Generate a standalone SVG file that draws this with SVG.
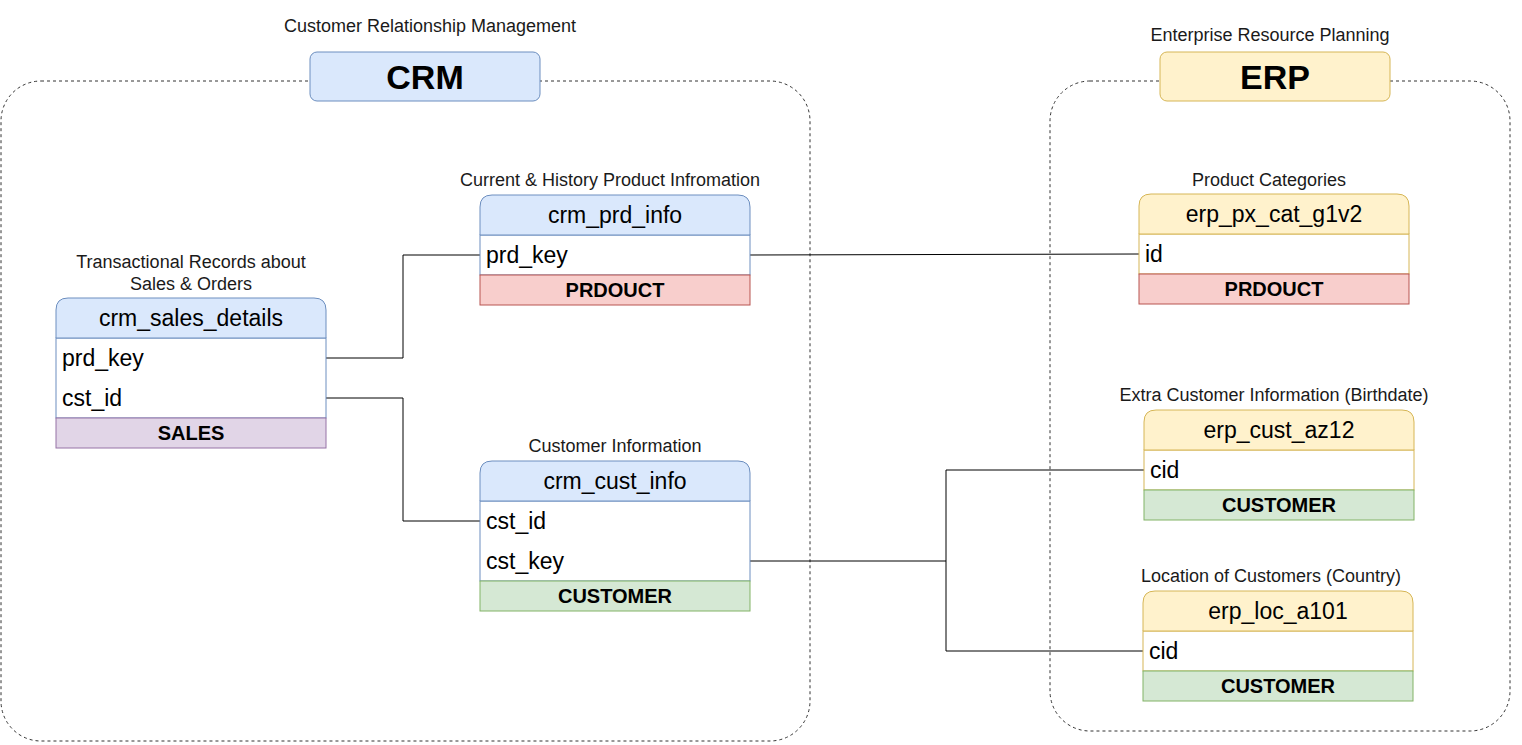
<svg xmlns="http://www.w3.org/2000/svg" width="1522" height="745" viewBox="0 0 1522 745">
<style>
.lbl{font-family:"Liberation Sans",Arial,sans-serif;font-size:18px;fill:#1a1a1a;text-anchor:middle}
.hd{font-family:"Liberation Sans",Arial,sans-serif;font-size:23px;fill:#000;text-anchor:middle}
.row{font-family:"Liberation Sans",Arial,sans-serif;font-size:23px;fill:#000}
.ft{font-family:"Liberation Sans",Arial,sans-serif;font-size:20px;font-weight:bold;fill:#000;text-anchor:middle}
.big{font-family:"Liberation Sans",Arial,sans-serif;font-size:34px;font-weight:bold;fill:#000;text-anchor:middle}
.cont{fill:none;stroke:#333;stroke-width:1;stroke-dasharray:3 3}
.blue{fill:#dae8fc;stroke:#6c8ebf}
.yel{fill:#fff2cc;stroke:#d6b656}
.bodyb{fill:#fff;stroke:#6c8ebf}
.bodyy{fill:#fff;stroke:#d6b656}
.red{fill:#f8cecc;stroke:#b85450}
.grn{fill:#d5e8d4;stroke:#82b366}
.pur{fill:#e1d5e7;stroke:#9673a6}
.conn{fill:none;stroke:#000;stroke-width:1}
</style>

<g id="crm-group">
<rect class="cont" x="1" y="81" width="809" height="660" rx="40"/>
<text class="lbl" x="430" y="32">Customer Relationship Management</text>
<rect class="blue" x="310" y="52" width="230" height="49" rx="7"/>
<text class="big" x="425" y="89">CRM</text>
</g>

<g id="erp-group">
<rect class="cont" x="1050" y="81" width="460" height="650" rx="40"/>
<text class="lbl" x="1270" y="41">Enterprise Resource Planning</text>
<rect class="yel" x="1160" y="52" width="230" height="49" rx="7"/>
<text class="big" x="1275" y="89">ERP</text>
</g>

<g id="connectors">
<polyline class="conn" points="326,358 403,358 403,255 480,255"/>
<polyline class="conn" points="326,398 403,398 403,521 480,521"/>
<line class="conn" x1="750" y1="255" x2="1139" y2="254"/>
<polyline class="conn" points="750,561 946,561 946,470 1144,470"/>
<polyline class="conn" points="946,561 946,651 1143,651"/>
</g>

<g id="crm_sales_details">
<text class="lbl" x="191" y="268">Transactional Records about</text>
<text class="lbl" x="191" y="290">Sales &amp; Orders</text>
<rect class="bodyb" x="56" y="338" width="270" height="80"/>
<path class="blue" d="M56,338 V310 Q56,298 68,298 H314 Q326,298 326,310 V338 Z"/>
<rect class="pur" x="56" y="418" width="270" height="30"/>
<text class="hd" x="191" y="326">crm_sales_details</text>
<text class="row" x="62" y="366">prd_key</text>
<text class="row" x="62" y="406">cst_id</text>
<text class="ft" x="191" y="440">SALES</text>
</g>

<g id="crm_prd_info">
<text class="lbl" x="610" y="186">Current &amp; History Product Infromation</text>
<rect class="bodyb" x="480" y="235" width="270" height="40"/>
<path class="blue" d="M480,235 V207 Q480,195 492,195 H738 Q750,195 750,207 V235 Z"/>
<rect class="red" x="480" y="275" width="270" height="30"/>
<text class="hd" x="615" y="223">crm_prd_info</text>
<text class="row" x="486" y="263">prd_key</text>
<text class="ft" x="615" y="297">PRDOUCT</text>
</g>

<g id="crm_cust_info">
<text class="lbl" x="615" y="452">Customer Information</text>
<rect class="bodyb" x="480" y="501" width="270" height="80"/>
<path class="blue" d="M480,501 V473 Q480,461 492,461 H738 Q750,461 750,473 V501 Z"/>
<rect class="grn" x="480" y="581" width="270" height="30"/>
<text class="hd" x="615" y="489">crm_cust_info</text>
<text class="row" x="486" y="529">cst_id</text>
<text class="row" x="486" y="569">cst_key</text>
<text class="ft" x="615" y="603">CUSTOMER</text>
</g>

<g id="erp_px_cat_g1v2">
<text class="lbl" x="1269" y="186">Product Categories</text>
<rect class="bodyy" x="1139" y="234" width="270" height="40"/>
<path class="yel" d="M1139,234 V206 Q1139,194 1151,194 H1397 Q1409,194 1409,206 V234 Z"/>
<rect class="red" x="1139" y="274" width="270" height="30"/>
<text class="hd" x="1274" y="222">erp_px_cat_g1v2</text>
<text class="row" x="1145" y="262">id</text>
<text class="ft" x="1274" y="296">PRDOUCT</text>
</g>

<g id="erp_cust_az12">
<text class="lbl" x="1274" y="401">Extra Customer Information (Birthdate)</text>
<rect class="bodyy" x="1144" y="450" width="270" height="40"/>
<path class="yel" d="M1144,450 V422 Q1144,410 1156,410 H1402 Q1414,410 1414,422 V450 Z"/>
<rect class="grn" x="1144" y="490" width="270" height="30"/>
<text class="hd" x="1279" y="438">erp_cust_az12</text>
<text class="row" x="1150" y="478">cid</text>
<text class="ft" x="1279" y="512">CUSTOMER</text>
</g>

<g id="erp_loc_a101">
<text class="lbl" x="1271" y="582">Location of Customers (Country)</text>
<rect class="bodyy" x="1143" y="631" width="270" height="40"/>
<path class="yel" d="M1143,631 V603 Q1143,591 1155,591 H1401 Q1413,591 1413,603 V631 Z"/>
<rect class="grn" x="1143" y="671" width="270" height="30"/>
<text class="hd" x="1278" y="619">erp_loc_a101</text>
<text class="row" x="1149" y="659">cid</text>
<text class="ft" x="1278" y="693">CUSTOMER</text>
</g>
</svg>
